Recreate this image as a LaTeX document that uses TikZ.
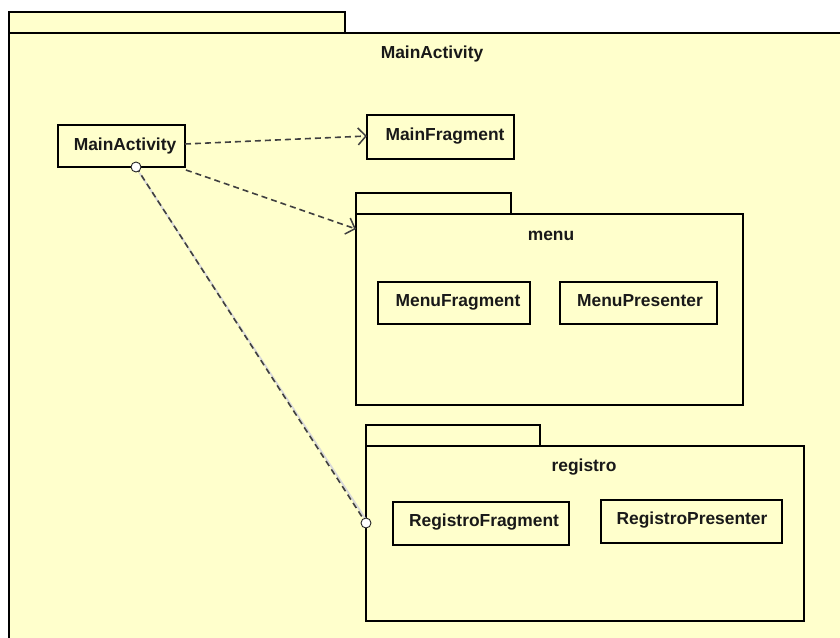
\documentclass[tikz,border=0pt]{standalone}
\usepackage{fontspec}
\setmainfont{Liberation Sans}
\usetikzlibrary{arrows.meta}
\definecolor{umlfill}{RGB}{255,255,204}
\begin{document}
\begin{tikzpicture}[x=1pt,y=-1pt,
  every node/.style={inner sep=0pt,outer sep=0pt},
  box/.style={draw=black,line width=2.3pt,fill=umlfill,rectangle,anchor=north west},
  lbl/.style={font=\fontsize{17.4}{20}\selectfont\bfseries,text=black!90,anchor=base},
  dep/.style={draw=black!75,line width=1.6pt,dash pattern=on 6pt off 4pt,
              -{Straight Barb[length=8pt,width=17pt,line width=1.5pt]}},
  lollipop/.style={circle,draw=black!85,line width=0.9pt,fill=white,minimum size=10pt}]
\useasboundingbox (0,0) rectangle (840,637);
\clip (0,0) rectangle (840,637);

% outer package MainActivity
\node[box,minimum width=900pt,minimum height=700pt] (outer) at (9,33) {};
\node[box,minimum width=336pt,minimum height=21pt] (outertab) at (9,12) {};
\node[lbl] (outerlbl) at (432,58) {MainActivity};

% class MainActivity
\node[box,minimum width=127pt,minimum height=42pt] (ma) at (58,125) {};
\node[lbl] (malbl) at (125,150) {MainActivity};

% class MainFragment
\node[box,minimum width=147pt,minimum height=44pt] (mf) at (367,115) {};
\node[lbl] (mflbl) at (445,140) {MainFragment};

% package menu
\node[box,minimum width=387pt,minimum height=191pt] (menu) at (356,214) {};
\node[box,minimum width=155pt,minimum height=21pt] (menutab) at (356,193) {};
\node[lbl] (menulbl) at (551,240) {menu};
\node[box,minimum width=152pt,minimum height=42pt] (menufrag) at (378,282) {};
\node[lbl] (menufraglbl) at (458,306) {MenuFragment};
\node[box,minimum width=157pt,minimum height=42pt] (menupres) at (560,282) {};
\node[lbl] (menupreslbl) at (640,306) {MenuPresenter};

% package registro
\node[box,minimum width=438pt,minimum height=175pt] (reg) at (366,446) {};
\node[box,minimum width=174pt,minimum height=21pt] (regtab) at (366,425) {};
\node[lbl] (reglbl) at (584,471) {registro};
\node[box,minimum width=176pt,minimum height=43pt] (regfrag) at (393,502) {};
\node[lbl] (regfraglbl) at (484,526) {RegistroFragment};
\node[box,minimum width=181pt,minimum height=43pt] (regpres) at (601,500) {};
\node[lbl] (regpreslbl) at (692,524) {RegistroPresenter};

% dependencies
\draw[dep] ([yshift=2pt]ma.east) -- ([yshift=1pt]mf.west);
\draw[dep] ([xshift=1pt,yshift=-3pt]ma.south east) -- ([yshift=-15pt]menu.north west);

% lollipop link between MainActivity and registro
\coordinate (lolA) at ([xshift=14.5pt]ma.south);
\coordinate (lolB) at ([yshift=-77pt]reg.north west);
\draw[black!15,line width=1.8pt] ([xshift=3.5pt,yshift=-6pt]lolA) -- ([xshift=3.5pt,yshift=-2pt]lolB);
\draw[black!75,line width=1.6pt,dash pattern=on 6pt off 4pt] (lolA) -- (lolB);
\node[lollipop] (lolAc) at (lolA) {};
\node[lollipop] (lolBc) at (lolB) {};
\end{tikzpicture}
\end{document}
